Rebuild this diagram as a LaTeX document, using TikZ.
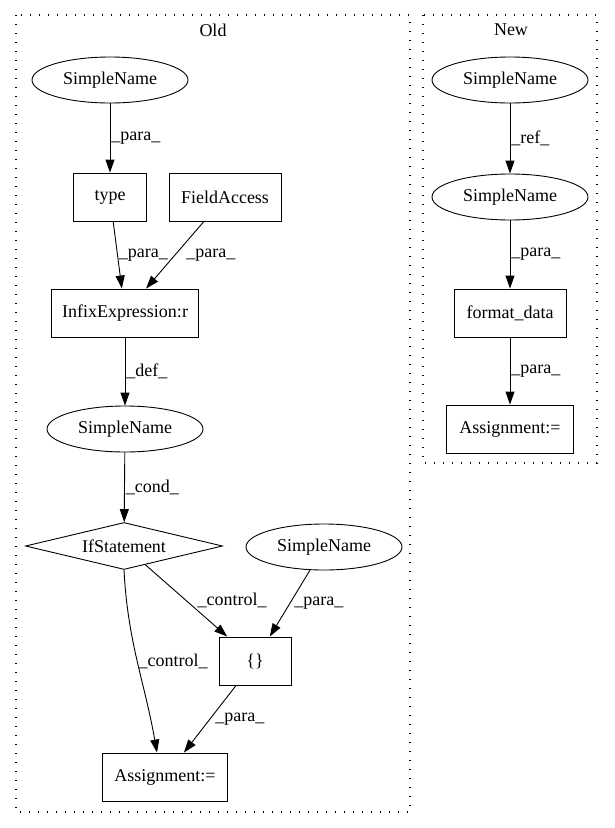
\documentclass[tikz,border=0pt]{standalone}
\usepackage{fontspec}
\setmainfont{Liberation Serif}
\usetikzlibrary{positioning, shapes.geometric, arrows.meta}

\begin{document}
\begin{tikzpicture}[x = 1pt, y = -1pt, font = \fontsize{18}{21}\selectfont,
    every node/.style = { draw, align = center, inner sep = 0pt, line width = 0.9pt },
    box/.style = { shape = rectangle, minimum height = 48pt },
    oval/.style = { shape = ellipse, minimum width = 156pt, minimum height = 46pt },
    ifshape/.style = { shape = diamond, aspect = 4.2, minimum width = 197pt, minimum height = 47pt },
    lbl/.style = { draw = none, anchor = west, inner sep = 1pt },
    title/.style = { draw = none },
    arr/.style = { -{Triangle[length = 13pt, width = 9pt]}, line width = 0.9pt },
    cluster/.style = { line width = 1.3pt, dash pattern = on 1.3pt off 7.7pt }]
    \useasboundingbox (0,0) rectangle (615,828);

    \draw[cluster] (16,15) rectangle (410,812);
    \draw[cluster] (423,15) rectangle (597,463);
    \node[title] (old) at (213,30) {Old};
    \node[title] (new) at (511,30) {New};

    \node[oval] (sn1) at (110,80) {SimpleName};
    \node[box, minimum width = 73pt] (type) at (110,197) {type};
    \node[box, minimum width = 112pt] (fa) at (225,197) {FieldAccess};
    \node[box, minimum width = 147pt] (infix) at (125,313) {InfixExpression:r};
    \node[oval] (sn2) at (125,429) {SimpleName};
    \node[ifshape] (ifst) at (124,546) {IfStatement};
    \node[oval] (sn3) at (324,547) {SimpleName};
    \node[box, minimum width = 72pt] (blk) at (255,661) {\{\}};
    \node[box, minimum width = 125pt] (asg) at (165,777) {Assignment:=};

    \node[oval] (nsn1) at (510,80) {SimpleName};
    \node[oval] (nsn2) at (510,197) {SimpleName};
    \node[box, minimum width = 112pt] (fmt) at (510,313) {format\_data};
    \node[box, minimum width = 127pt] (nasg) at (510,429) {Assignment:=};

    \draw[arr] (sn1) -- node[lbl] {\_para\_} (type);
    \draw[arr] (type) -- node[lbl] {\_para\_} (infix);
    \draw[arr] (fa) -- node[lbl, xshift = 10pt] {\_para\_} (infix);
    \draw[arr] (infix) -- node[lbl] {\_def\_} (sn2);
    \draw[arr] (sn2) -- node[lbl] {\_cond\_} (ifst);
    \draw[arr] (ifst) -- node[lbl, xshift = 10pt] {\_control\_} (blk);
    \draw[arr] (sn3) -- node[lbl, xshift = 3pt] {\_para\_} (blk);
    \draw[arr] (ifst.south) to[out = -87, in = 100] node[lbl] {\_control\_} ([xshift = -8pt]asg.north);
    \draw[arr] (blk) -- node[lbl, xshift = 4pt] {\_para\_} (asg);

    \draw[arr] (nsn1) -- node[lbl] {\_ref\_} (nsn2);
    \draw[arr] (nsn2) -- node[lbl] {\_para\_} (fmt);
    \draw[arr] (fmt) -- node[lbl] {\_para\_} (nasg);
\end{tikzpicture}
\end{document}
